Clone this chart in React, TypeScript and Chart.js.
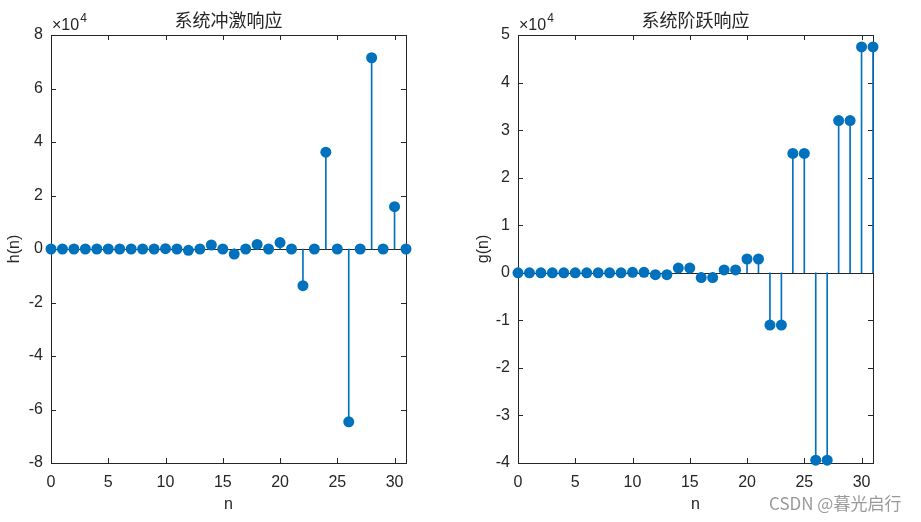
import React, { useEffect, useRef } from "react";
import { Chart, registerables } from "chart.js";

Chart.register(...registerables);

// n = 0 .. 31
const nValues = [
  0, 1, 2, 3, 4, 5, 6, 7, 8, 9, 10, 11, 12, 13, 14, 15,
  16, 17, 18, 19, 20, 21, 22, 23, 24, 25, 26, 27, 28, 29, 30, 31,
];

// 系统冲激响应 h(n)
const hValues = [
  0, 0, 0, 0, 0, 0, 0, 0, 0, 0, 100, 0, -500, 0, 1500, 0,
  -1900, 0, 1700, 0, 2400, 0, -13700, 0, 36200, 0, -64600, 0, 71500, 0, 15800, 0,
];

// 系统阶跃响应 g(n)
const gValues = [
  0, 0, 0, 0, 0, 0, 0, 0, 0, 0, 100, 100, -400, -400, 1000, 1000,
  -1000, -1000, 600, 600, 2900, 2900, -11000, -11000, 25100, 25100, -39400, -39400, 32000, 32000, 47500, 47500,
];

const xTicks = { min: 0, max: 31, step: 5 };
const hTicks = { min: -80000, max: 80000, step: 20000 };
const gTicks = { min: -40000, max: 50000, step: 10000 };

const STEM_COLOR = "#0072BD";
const AXIS_COLOR = "#262626";
const TICK_FONT = { family: "'Liberation Sans', Arial, sans-serif", size: 16 };
const CJK_FONT = "'Noto Sans CJK SC', 'Noto Sans', sans-serif";

const matlabAxes = {
  id: "matlabAxes",
  beforeDatasetsDraw(chart: any) {
    const { ctx, chartArea: a, scales } = chart;
    const x = scales.x;
    const y = scales.y;
    ctx.save();
    ctx.strokeStyle = AXIS_COLOR;
    ctx.lineWidth = 1;
    // baseline
    const y0 = Math.round(y.getPixelForValue(0)) + 0.5;
    ctx.beginPath();
    ctx.moveTo(a.left, y0);
    ctx.lineTo(a.right, y0);
    ctx.stroke();
    // box
    ctx.strokeRect(Math.round(a.left) + 0.5, Math.round(a.top) + 0.5, Math.round(a.width), Math.round(a.height));
    // inward ticks
    const tl = 5;
    ctx.beginPath();
    x.ticks.forEach((t: any) => {
      const px = Math.round(x.getPixelForValue(t.value)) + 0.5;
      ctx.moveTo(px, a.bottom);
      ctx.lineTo(px, a.bottom - tl);
      ctx.moveTo(px, a.top);
      ctx.lineTo(px, a.top + tl);
    });
    y.ticks.forEach((t: any) => {
      const py = Math.round(y.getPixelForValue(t.value)) + 0.5;
      ctx.moveTo(a.left, py);
      ctx.lineTo(a.left + tl, py);
      ctx.moveTo(a.right, py);
      ctx.lineTo(a.right - tl, py);
    });
    ctx.stroke();
    ctx.restore();
  },
  afterDraw(chart: any, _args: any, opts: any) {
    const { ctx, chartArea: a } = chart;
    ctx.save();
    ctx.fillStyle = AXIS_COLOR;
    // axes title, centred on the plot box
    ctx.textBaseline = "middle";
    ctx.textAlign = "center";
    ctx.font = `18px ${CJK_FONT}`;
    ctx.fillText(opts.title || "", (a.left + a.right) / 2, 20);
    // exponent label
    ctx.textAlign = "left";
    ctx.font = `16px ${TICK_FONT.family}`;
    const base = "\u00d710";
    const x0 = a.left + 1;
    ctx.fillText(base, x0, 26);
    const w = ctx.measureText(base).width;
    ctx.font = `12px ${TICK_FONT.family}`;
    ctx.fillText("4", x0 + w + 1, 19);
    ctx.restore();
  },
};

function makeConfig(
  values: number[],
  yt: { min: number; max: number; step: number },
  title: string,
  yTitle: string,
  padRight: number,
  yWidth: number,
  yTitlePad: number
): any {
  return {
    type: "bar",
    data: {
      datasets: [
        {
          type: "scatter",
          data: nValues.map((n, i) => ({ x: n, y: values[i] })),
          showLine: false,
          pointRadius: 5.5,
          pointHoverRadius: 5.5,
          pointBackgroundColor: STEM_COLOR,
          pointBorderWidth: 0,
          borderColor: STEM_COLOR,
          clip: false,
          order: 0,
        },
        {
          type: "bar",
          data: nValues.map((n, i) => ({ x: n, y: values[i] })),
          backgroundColor: STEM_COLOR,
          borderWidth: 0,
          barThickness: 1,
          clip: false,
          order: 1,
        },
      ],
    },
    options: {
      responsive: false,
      animation: false,
      devicePixelRatio: 1,
      layout: { padding: { left: 0, right: padRight, top: 35, bottom: 0 } },
      plugins: {
        legend: { display: false },
        tooltip: { enabled: false },
        title: { display: false },
        matlabAxes: { title },
      },
      scales: {
        x: {
          type: "linear",
          position: "bottom",
          min: xTicks.min,
          max: xTicks.max,
          offset: false,
          grid: { display: false, drawTicks: false },
          border: { display: false },
          ticks: {
            stepSize: xTicks.step,
            includeBounds: false,
            color: AXIS_COLOR,
            font: TICK_FONT,
            padding: 10,
            maxRotation: 0,
          },
          title: {
            display: true,
            text: "n",
            color: AXIS_COLOR,
            font: TICK_FONT,
            padding: { top: 0, bottom: 8 },
          },
          afterFit: (s: any) => {
            s.height = 59;
          },
        },
        y: {
          type: "linear",
          min: yt.min,
          max: yt.max,
          grid: { display: false, drawTicks: false },
          border: { display: false },
          ticks: {
            stepSize: yt.step,
            color: AXIS_COLOR,
            font: TICK_FONT,
            padding: 8,
            callback: (v: any) => String(Math.round(Number(v) / 1000) / 10),
          },
          title: {
            display: true,
            text: yTitle,
            color: AXIS_COLOR,
            font: TICK_FONT,
            padding: { top: yTitlePad, bottom: 0 },
          },
          afterFit: (s: any) => {
            s.width = yWidth;
          },
        },
      },
    },
    plugins: [matlabAxes],
  };
}

function StemChart(props: {
  values: number[];
  yt: { min: number; max: number; step: number };
  title: string;
  yTitle: string;
  left: number;
  width: number;
  padRight: number;
  yWidth: number;
  yTitlePad: number;
}) {
  const ref = useRef<HTMLCanvasElement | null>(null);
  useEffect(() => {
    if (!ref.current) return;
    const chart = new Chart(
      ref.current,
      makeConfig(props.values, props.yt, props.title, props.yTitle, props.padRight, props.yWidth, props.yTitlePad)
    );
    return () => chart.destroy();
  }, []);
  return (
    <canvas
      ref={ref}
      width={props.width}
      height={522}
      style={{ position: "absolute", left: props.left, top: 0, width: props.width, height: 522 }}
    />
  );
}

export default function App() {
  return (
    <div
      style={{
        position: "fixed",
        left: 0,
        top: 0,
        width: 921,
        height: 522,
        background: "#ffffff",
        overflow: "hidden",
      }}
    >
      <StemChart
        values={hValues}
        yt={hTicks}
        title="系统冲激响应"
        yTitle="h(n)"
        left={0}
        width={460}
        padRight={54}
        yWidth={51}
        yTitlePad={5}
      />
      <StemChart
        values={gValues}
        yt={gTicks}
        title="系统阶跃响应"
        yTitle="g(n)"
        left={460}
        width={461}
        padRight={48}
        yWidth={58}
        yTitlePad={14}
      />
      <div
        style={{
          position: "absolute",
          left: 769,
          top: 491,
          fontFamily: CJK_FONT,
          fontSize: 17,
          color: "#9a9a9a",
          lineHeight: "24px",
          whiteSpace: "nowrap",
        }}
      >
        CSDN @暮光启行
      </div>
    </div>
  );
}
